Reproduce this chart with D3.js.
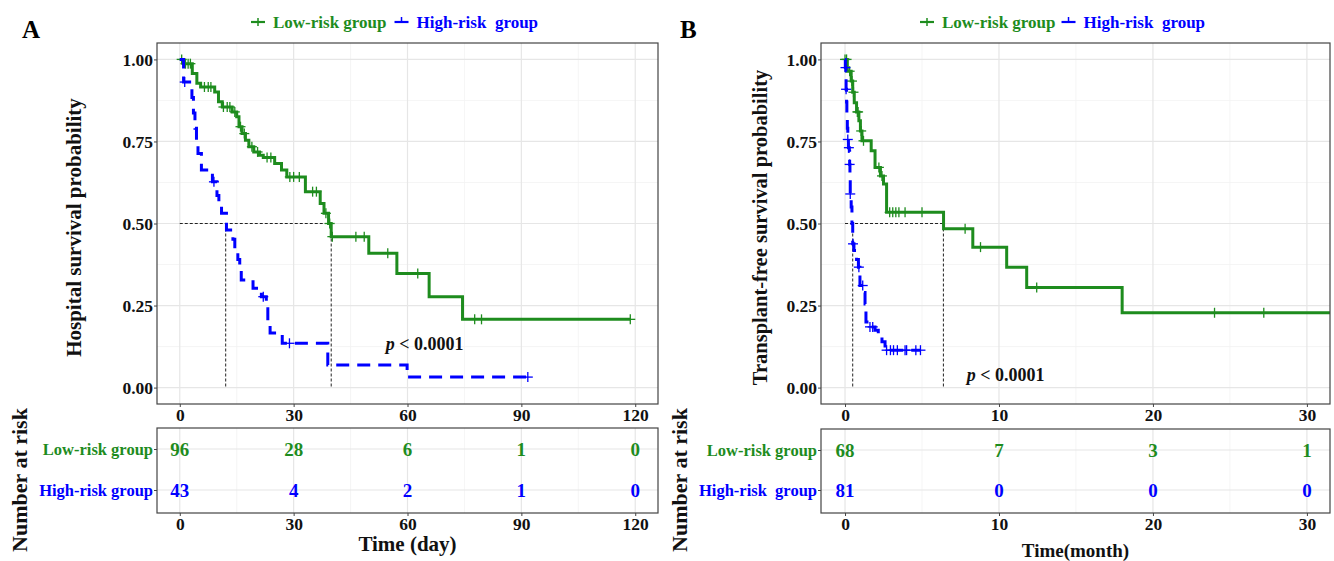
<!DOCTYPE html>
<html><head><meta charset="utf-8">
<script src="https://cdn.jsdelivr.net/npm/d3@7/dist/d3.min.js"></script>
<style>
body{margin:0;background:#fff}
text{font-family:"Liberation Serif","Times New Roman",serif;font-weight:bold}
</style>
</head><body>
<svg id="chart" width="1334" height="561"></svg>
<script>
// ---------------- DATA ----------------
const groupNames = ["Low-risk group", "High-risk group"];
const legendNamesA = ["Low-risk group", "High-risk  group"];
const tableNamesA = ["Low-risk group", "High-risk group"];
const tableNamesB = ["Low-risk group", "High-risk  group"];

const yTicks = [0, 0.25, 0.5, 0.75, 1];
const yTickLabels = ["0.00", "0.25", "0.50", "0.75", "1.00"];

// Panel A (days)
const timeTicksA = [0, 30, 60, 90, 120];
const lowStepsA = [[0,1],[1.0,0.987],[3.3,0.957],[4.5,0.927],[5.5,0.916],[9.2,0.901],[10.2,0.871],[11.2,0.855],
  [13.8,0.840],[15.0,0.825],[15.6,0.795],[16.4,0.774],[17.3,0.754],[18.2,0.734],[19.5,0.718],[21.0,0.708],
  [22.0,0.701],[25.0,0.683],[26.8,0.663],[28.2,0.642],[33.1,0.597],[37.0,0.561],[38.0,0.531],[39.2,0.500],
  [39.9,0.460],[49.8,0.409],[57.2,0.348],[65.7,0.277],[74.5,0.208]];
const lowEndA = 118.7;
const lowCensorA = [0.5,1.5,2.2,2.8,6.5,7.5,8.2,11.5,12.5,13.2,14.5,16.0,17.0,19.0,20.5,23.0,24.0,29.0,30.0,31.5,
  35.0,36.0,38.5,39.5,40.2,46.4,48.6,54.8,62.7,77.7,79.5,118.7];
const highStepsA = [[0,1],[1.0,0.931],[3.2,0.884],[3.6,0.837],[4.0,0.790],[4.4,0.744],[4.8,0.713],[5.7,0.663],
  [8.6,0.627],[9.8,0.585],[10.3,0.555],[11.0,0.531],[12.3,0.480],[14.0,0.452],[14.5,0.424],[15.3,0.390],
  [15.8,0.358],[16.2,0.328],[19.3,0.303],[21.5,0.277],[22.8,0.240],[23.2,0.200],[23.8,0.166],[27.0,0.135],
  [39.0,0.069],[59.9,0.032]];
const highEndA = 91.7;
const highCensorA = [1.3,9.0,22.0,28.9,91.7];
const mediansA = [12.1, 39.9];
const riskLowA = [96, 28, 6, 1, 0];
const riskHighA = [43, 4, 2, 1, 0];

// Panel B (months)
const timeTicksB = [0, 10, 20, 30];
const lowStepsB = [[0,1],[0.15,0.964],[0.4,0.934],[0.5,0.90],[0.6,0.868],[0.75,0.84],[0.9,0.813],[1.0,0.782],
  [1.1,0.752],[1.7,0.722],[1.95,0.671],[2.3,0.645],[2.5,0.620],[2.7,0.534],[6.4,0.484],[8.3,0.428],
  [10.5,0.367],[11.8,0.305],[18.0,0.228]];
const lowEndB = 34;
const lowCensorB = [0.0,0.1,0.3,0.45,0.55,0.8,0.85,1.05,1.2,2.2,2.4,2.9,3.1,3.3,3.5,3.9,5.0,7.8,8.8,12.45,24.0,27.2];
const highStepsB = [[0,1],[0.02,0.975],[0.05,0.94],[0.07,0.909],[0.1,0.87],[0.12,0.83],[0.15,0.79],[0.18,0.756],
  [0.22,0.731],[0.28,0.72],[0.3,0.68],[0.32,0.64],[0.34,0.59],[0.4,0.55],[0.45,0.50],[0.5,0.438],[0.58,0.418],
  [0.75,0.39],[0.87,0.367],[0.97,0.311],[1.2,0.29],[1.3,0.255],[1.36,0.20],[1.6,0.185],[1.95,0.175],
  [2.16,0.16],[2.4,0.14],[2.6,0.114]];
const highEndB = 4.9;
const highCensorB = [0.03,0.07,0.18,0.25,0.3,0.34,0.52,0.9,1.15,1.62,1.8,2.7,2.95,3.15,3.4,3.9,4.0,4.6,4.9];
const mediansB = [0.5, 6.39];
const riskLowB = [68, 7, 3, 1];
const riskHighB = [81, 0, 0, 0];

// ---------------- STYLE ----------------
const GREEN = "#1e8c1e", BLUE = "#0000ff";
const svg = d3.select("#chart");

function stepAt(steps, t) {
  let s = steps[0][1];
  for (const [tt, v] of steps) { if (tt <= t) s = v; }
  return s;
}

function drawPanel(p) {
  const g = svg.append("g");
  const x = d3.scaleLinear().domain(p.xDomain).range([p.left, p.right]);
  const y = d3.scaleLinear().domain([-0.05, 1.05]).range([p.bottom, p.top]);
  const clipId = "clip" + p.id;
  svg.append("clipPath").attr("id", clipId).append("rect")
    .attr("x", p.left).attr("y", p.top).attr("width", p.right - p.left).attr("height", p.bottom - p.top);

  // grid
  const minorX = p.ticks.slice(0, -1).map((d, i) => (d + p.ticks[i + 1]) / 2);
  const lastStep = p.ticks[1] - p.ticks[0];
  if (p.ticks[p.ticks.length-1] + lastStep/2 < p.xDomain[1]) minorX.push(p.ticks[p.ticks.length-1] + lastStep/2);
  const minorY = [0.125, 0.375, 0.625, 0.875];
  const grid = g.append("g");
  grid.selectAll(".mx").data(minorX).join("line").attr("x1", d => x(d)).attr("x2", d => x(d))
    .attr("y1", p.top).attr("y2", p.bottom).attr("stroke", "#f2f2f2").attr("stroke-width", 0.8);
  grid.selectAll(".my").data(minorY).join("line").attr("y1", d => y(d)).attr("y2", d => y(d))
    .attr("x1", p.left).attr("x2", p.right).attr("stroke", "#f2f2f2").attr("stroke-width", 0.8);
  grid.selectAll(".Mx").data(p.ticks).join("line").attr("x1", d => x(d)).attr("x2", d => x(d))
    .attr("y1", p.top).attr("y2", p.bottom).attr("stroke", "#e6e6e6").attr("stroke-width", 1.2);
  grid.selectAll(".My").data(yTicks).join("line").attr("y1", d => y(d)).attr("y2", d => y(d))
    .attr("x1", p.left).attr("x2", p.right).attr("stroke", "#e6e6e6").attr("stroke-width", 1.2);

  // median lines
  const med = g.append("g").attr("stroke", "#222").attr("stroke-width", 1).attr("stroke-dasharray", "3,2").attr("fill", "none");
  med.append("line").attr("x1", x(0)).attr("x2", x(d3.max(p.medians))).attr("y1", y(0.5)).attr("y2", y(0.5));
  p.medians.forEach(m => med.append("line").attr("x1", x(m)).attr("x2", x(m)).attr("y1", y(0.5)).attr("y2", y(0)));

  const curves = g.append("g").attr("clip-path", `url(#${clipId})`);
  const line = d3.line().x(d => x(d[0])).y(d => y(d[1])).curve(d3.curveStepAfter);
  const series = [
    {steps: p.lowSteps, end: p.lowEnd, censor: p.lowCensor, color: GREEN, dash: null},
    {steps: p.highSteps, end: p.highEnd, censor: p.highCensor, color: BLUE, dash: "13,8"}
  ];
  series.forEach(s => {
    const pts = s.steps.concat([[s.end, s.steps[s.steps.length - 1][1]]]);
    curves.append("path").datum(pts).attr("d", line).attr("fill", "none")
      .attr("stroke", s.color).attr("stroke-width", 3).attr("stroke-dasharray", s.dash);
    const cg = curves.append("g").attr("stroke", s.color).attr("stroke-width", 1.3);
    s.censor.forEach(t => {
      const cx = x(t), cy = y(stepAt(s.steps, t));
      cg.append("line").attr("x1", cx - 5).attr("x2", cx + 5).attr("y1", cy).attr("y2", cy);
      cg.append("line").attr("x1", cx).attr("x2", cx).attr("y1", cy - 5).attr("y2", cy + 5);
    });
  });

  // border
  g.append("rect").attr("x", p.left).attr("y", p.top).attr("width", p.right - p.left).attr("height", p.bottom - p.top)
    .attr("fill", "none").attr("stroke", "#444").attr("stroke-width", 1.2);

  // axes
  const ax = g.append("g").attr("transform", `translate(0,${p.bottom})`)
    .call(d3.axisBottom(x).tickValues(p.ticks).tickSize(3).tickPadding(2).tickFormat(d3.format("d")));
  const ay = g.append("g").attr("transform", `translate(${p.left},0)`)
    .call(d3.axisLeft(y).tickValues(yTicks).tickSize(3).tickPadding(1).tickFormat((d, i) => yTickLabels[i]));
  [ax, ay].forEach(a => {
    a.select(".domain").remove();
    a.selectAll("line").attr("stroke", "#444");
    a.selectAll("text").attr("font-size", 17.5).attr("fill", "#111")
      .style("font-family", '"Liberation Serif",serif').style("font-weight", "bold");
  });

  // y title
  g.append("text").attr("transform", `translate(${p.yTitleX},${(p.top + p.bottom) / 2 + 4}) rotate(-90)`)
    .attr("text-anchor", "middle").attr("font-size", p.yTitleSize).attr("fill", "#111").text(p.yTitle);

  // p-value
  const pv = g.append("text").attr("x", x(p.pPos[0])).attr("y", y(p.pPos[1])).attr("font-size", 18).attr("fill", "#111");
  pv.append("tspan").attr("font-style", "italic").text("p");
  pv.append("tspan").text(" < 0.0001");

  // legend
  const lg = g.append("g");
  let lx = p.legendX;
  p.legendNames.forEach((name, i) => {
    const col = i === 0 ? GREEN : BLUE;
    const ly = 22;
    lg.append("line").attr("x1", lx).attr("x2", lx + 14).attr("y1", ly).attr("y2", ly).attr("stroke", col).attr("stroke-width", 2.2);
    lg.append("line").attr("x1", lx + 7).attr("x2", lx + 7).attr("y1", ly - (i === 0 ? 4 : 5)).attr("y2", ly + (i === 0 ? 4 : 0))
      .attr("stroke", col).attr("stroke-width", 1.5);
    const t = lg.append("text").attr("x", lx + 22).attr("y", ly + 6).attr("font-size", 17).attr("fill", col)
      .style("white-space", "pre").text(name);
    lx = lx + 22 + t.node().getComputedTextLength() + p.legendGap;
  });

  // panel letter
  g.append("text").attr("x", p.letterX).attr("y", 38).attr("font-size", 25).attr("fill", "#000").text(p.letter);

  // risk table
  const tg = svg.append("g");
  const ty = d3.scalePoint().domain(groupNames).range([p.tRowTop, p.tRowBot]);
  const tgrid = tg.append("g");
  tgrid.selectAll(".mx").data(minorX).join("line").attr("x1", d => x(d)).attr("x2", d => x(d))
    .attr("y1", p.tTop).attr("y2", p.tBot).attr("stroke", "#f2f2f2").attr("stroke-width", 0.8);
  tgrid.selectAll(".Mx").data(p.ticks).join("line").attr("x1", d => x(d)).attr("x2", d => x(d))
    .attr("y1", p.tTop).attr("y2", p.tBot).attr("stroke", "#e6e6e6").attr("stroke-width", 1.2);
  tgrid.selectAll(".My").data(groupNames).join("line").attr("y1", d => ty(d)).attr("y2", d => ty(d))
    .attr("x1", p.left).attr("x2", p.right).attr("stroke", "#e6e6e6").attr("stroke-width", 1.2);
  tg.append("rect").attr("x", p.left).attr("y", p.tTop).attr("width", p.right - p.left).attr("height", p.tBot - p.tTop)
    .attr("fill", "none").attr("stroke", "#444").attr("stroke-width", 1.2);
  [p.riskLow, p.riskHigh].forEach((vals, gi) => {
    tg.selectAll(null).data(vals).join("text")
      .attr("x", (d, i) => x(p.ticks[i])).attr("y", ty(groupNames[gi]) + 6.5)
      .attr("text-anchor", "middle").attr("font-size", 19).attr("fill", gi === 0 ? GREEN : BLUE).text(d => d);
  });
  const tax = tg.append("g").attr("transform", `translate(0,${p.tBot})`)
    .call(d3.axisBottom(x).tickValues(p.ticks).tickSize(3).tickPadding(2).tickFormat(d3.format("d")));
  const tay = tg.append("g").attr("transform", `translate(${p.left},0)`)
    .call(d3.axisLeft(ty).tickSize(3).tickPadding(1).tickFormat((d, i) => p.tableNames[i]));
  [tax, tay].forEach(a => {
    a.select(".domain").remove();
    a.selectAll("line").attr("stroke", "#444");
    a.selectAll("text").attr("font-size", 17.5).attr("fill", "#111")
      .style("font-family", '"Liberation Serif",serif').style("font-weight", "bold");
  });
  tay.selectAll("text").attr("font-size", p.tableLabelSize).attr("fill", (d, i) => i === 0 ? GREEN : BLUE).style("white-space", "pre");
  tg.append("text").attr("transform", `translate(${p.nrX},480) rotate(-90)`).attr("text-anchor", "middle")
    .attr("font-size", 22).attr("fill", "#111").text("Number at risk");
  tg.append("text").attr("x", (p.left + p.right) / 2).attr("y", p.xTitleY).attr("text-anchor", "middle")
    .attr("font-size", p.xTitleSize).attr("fill", "#111").text(p.xTitle);
}

drawPanel({
  id: "A", letter: "A", letterX: 22, xDomain: [-6, 126], left: 157, right: 658, top: 43, bottom: 404,
  ticks: timeTicksA, lowSteps: lowStepsA, lowEnd: lowEndA, lowCensor: lowCensorA,
  highSteps: highStepsA, highEnd: highEndA, highCensor: highCensorA, medians: mediansA,
  yTitle: "Hospital survival probability", yTitleX: 81, yTitleSize: 21, pPos: [54.3, 0.115],
  legendNames: legendNamesA, legendX: 251, legendGap: 8,
  tTop: 428, tBot: 513, tRowTop: 449, tRowBot: 490, riskLow: riskLowA, riskHigh: riskHighA,
  tableNames: tableNamesA, tableLabelSize: 16.5, nrX: 27, xTitle: "Time (day)", xTitleY: 551, xTitleSize: 21
});
drawPanel({
  id: "B", letter: "B", letterX: 680, xDomain: [-1.56, 31.5], left: 821, right: 1330, top: 43, bottom: 404,
  ticks: timeTicksB, lowSteps: lowStepsB, lowEnd: lowEndB, lowCensor: lowCensorB,
  highSteps: highStepsB, highEnd: highEndB, highCensor: highCensorB, medians: mediansB,
  yTitle: "Transplant-free survival probability", yTitleX: 767, yTitleSize: 20.5, pPos: [7.9, 0.02],
  legendNames: tableNamesB, legendX: 920, legendGap: 6,
  tTop: 429, tBot: 513, tRowTop: 450, tRowBot: 490, riskLow: riskLowB, riskHigh: riskHighB,
  tableNames: tableNamesB, tableLabelSize: 16.5, nrX: 687, xTitle: "Time(month)", xTitleY: 557, xTitleSize: 19
});
</script>
</body></html>
